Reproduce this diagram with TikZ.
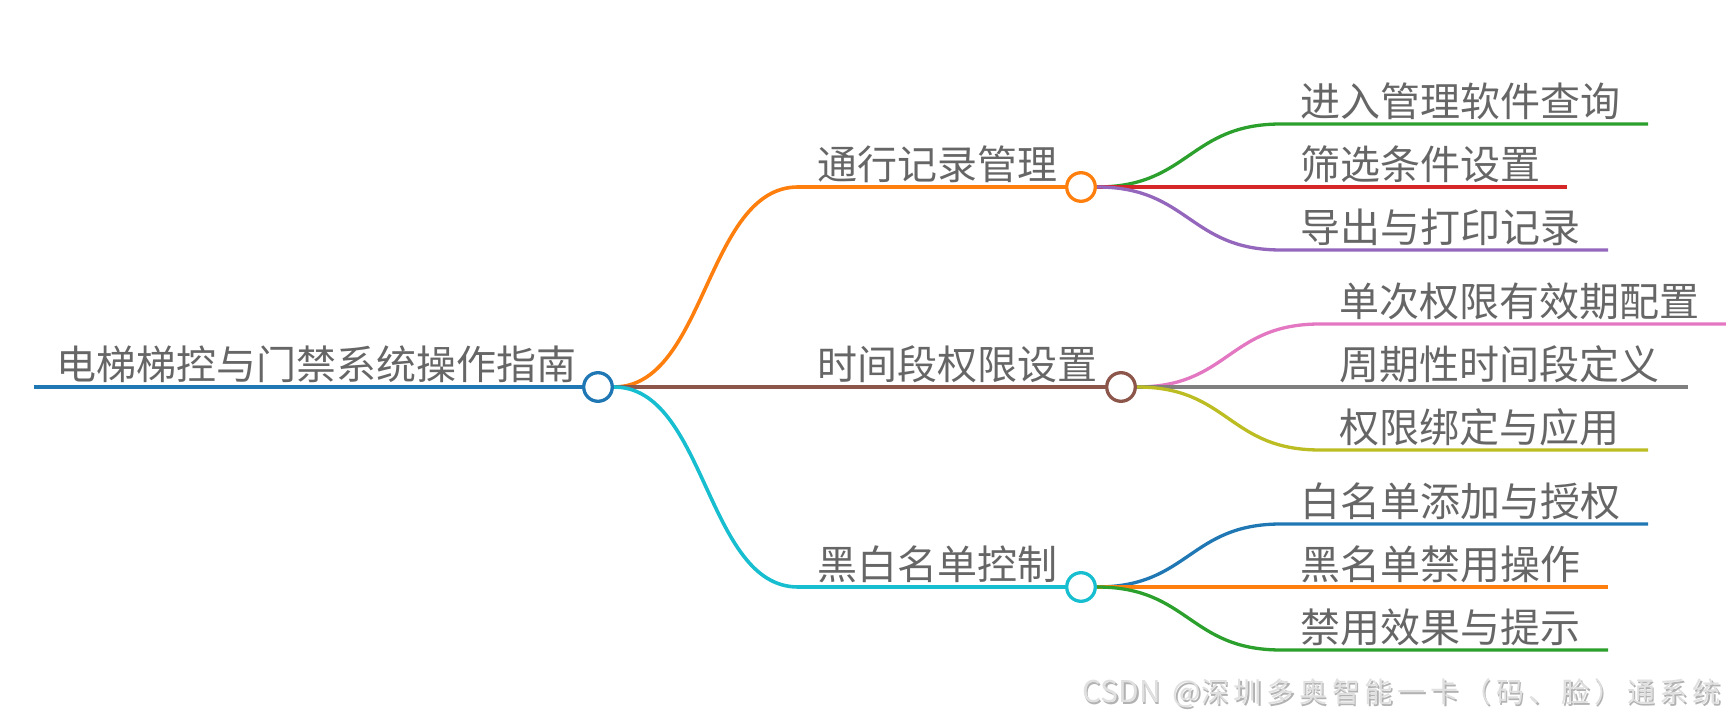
\documentclass[tikz,border=0pt]{standalone}
\usepackage{fontspec}
\newfontfamily\cjk{Noto Sans CJK SC}
\newfontfamily\wmfont[LetterSpace=17]{Noto Sans CJK SC}
\usetikzlibrary{calc, positioning, backgrounds}
\definecolor{txtgray}{HTML}{666666}
\definecolor{cBlue}{HTML}{1F77B4}
\definecolor{cOrange}{HTML}{FF7F0E}
\definecolor{cGreen}{HTML}{2CA02C}
\definecolor{cRed}{HTML}{D62728}
\definecolor{cPurple}{HTML}{9467BD}
\definecolor{cBrown}{HTML}{8C564B}
\definecolor{cPink}{HTML}{E377C2}
\definecolor{cGray}{HTML}{7F7F7F}
\definecolor{cOlive}{HTML}{BCBD22}
\definecolor{cCyan}{HTML}{17BECF}
\newcommand{\wmtext}{{\cjk\fontsize{15pt}{16pt}\selectfont CSDN\hspace{6pt}@}深圳多奥智能一卡（码、脸）通系统}

\begin{document}
\begin{tikzpicture}[
		x=0.5pt, y=-0.5pt,
		topic/.style={font=\cjk\fontsize{20pt}{24pt}\selectfont, text=txtgray, anchor=base west, inner sep=0pt},
		hub/.style={circle, draw=#1, fill=white, line width=1.65pt, minimum size=14.3pt, inner sep=0pt},
		trunk/.style={draw=#1, line width=2.2pt},
		stem/.style={draw=#1, line width=1.8pt},
		twig/.style={draw=#1, line width=1.65pt},
		wmark/.style={font=\wmfont\fontsize{14pt}{16pt}\selectfont, anchor=base east, inner sep=0pt}
		]
		\useasboundingbox (0,0) rectangle (1726,726);
		
		% 1. Root and main hubs
		\coordinate (rootstart) at (33.5,387);
		\node[hub=cBlue] (root) at (598,387) {};
		\node[hub=cOrange] (n1) at (1081,187) {};
		\node[hub=cBrown] (n2) at (1121,387) {};
		\node[hub=cCyan] (n3) at (1081,587) {};
		
		% Ends of the curved links
		\coordinate (e1) at (798,187);
		\coordinate (e3) at (798,587);
		\coordinate (s11) at (1281,124);  \coordinate (s11e) at (1648,124);
		\coordinate (s12e) at (1567,187);
		\coordinate (s13) at (1281,250);  \coordinate (s13e) at (1608,250);
		\coordinate (s21) at (1320,324);  \coordinate (s21e) at (1726,324);
		\coordinate (s22e) at (1688,387);
		\coordinate (s23) at (1320,450);  \coordinate (s23e) at (1648,450);
		\coordinate (s31) at (1281,524);  \coordinate (s31e) at (1648,524);
		\coordinate (s32e) at (1608,587);
		\coordinate (s33) at (1281,650);  \coordinate (s33e) at (1608,650);
		
		% 2. Links, kept behind the hubs
		\begin{scope}[on background layer]
			\draw[trunk=cBlue] (rootstart) -- (root.west);
			\draw[stem=cOrange] (root.east) .. controls +(92,0) and +(-92,0) .. (e1) -- (n1.west);
			\draw[stem=cBrown] (root.east) -- (n2.west);
			\draw[stem=cCyan] (root.east) .. controls +(92,0) and +(-92,0) .. (e3) -- (n3.west);
			
			\draw[twig=cGreen] (n1.east) .. controls +(92,0) and +(-92,0) .. (s11) -- (s11e);
			\draw[twig=cRed] (n1.east) -- (s12e);
			\draw[twig=cPurple] (n1.east) .. controls +(92,0) and +(-92,0) .. (s13) -- (s13e);
			
			\draw[twig=cPink] (n2.east) .. controls +(92,0) and +(-92,0) .. (s21) -- (s21e);
			\draw[twig=cGray] (n2.east) -- (s22e);
			\draw[twig=cOlive] (n2.east) .. controls +(92,0) and +(-92,0) .. (s23) -- (s23e);
			
			\draw[twig=cBlue] (n3.east) .. controls +(92,0) and +(-92,0) .. (s31) -- (s31e);
			\draw[twig=cOrange] (n3.east) -- (s32e);
			\draw[twig=cGreen] (n3.east) .. controls +(92,0) and +(-92,0) .. (s33) -- (s33e);
		\end{scope}
		
		% 3. Labels
		\node[topic] (rootlbl) at ($(rootstart)+(23,-7)$) {电梯梯控与门禁系统操作指南};
		\node[topic] (l1) at ($(e1)+(19,-7)$) {通行记录管理};
		\node[topic] (l2) at (817,380) {时间段权限设置};
		\node[topic] (l3) at ($(e3)+(19,-7)$) {黑白名单控制};
		
		\node[topic] (l11) at ($(s11)+(19.5,-7)$) {进入管理软件查询};
		\node[topic] (l12) at (1300.5,180) {筛选条件设置};
		\node[topic] (l13) at ($(s13)+(19.5,-7)$) {导出与打印记录};
		
		\node[topic] (l21) at ($(s21)+(19.5,-7)$) {单次权限有效期配置};
		\node[topic] (l22) at (1339.5,380) {周期性时间段定义};
		\node[topic] (l23) at ($(s23)+(19.5,-7)$) {权限绑定与应用};
		
		\node[topic] (l31) at ($(s31)+(19.5,-7)$) {白名单添加与授权};
		\node[topic] (l32) at (1300.5,580) {黑名单禁用操作};
		\node[topic] (l33) at ($(s33)+(19.5,-7)$) {禁用效果与提示};
		
		% Watermark with its soft shadow
		\node[wmark, text=black!30] (wmshadow) at (1722.5,704.5) {\wmtext};
		\node[wmark, text=black!12] (wm) at (1721,703) {\wmtext};
		
	\end{tikzpicture}
\end{document}
